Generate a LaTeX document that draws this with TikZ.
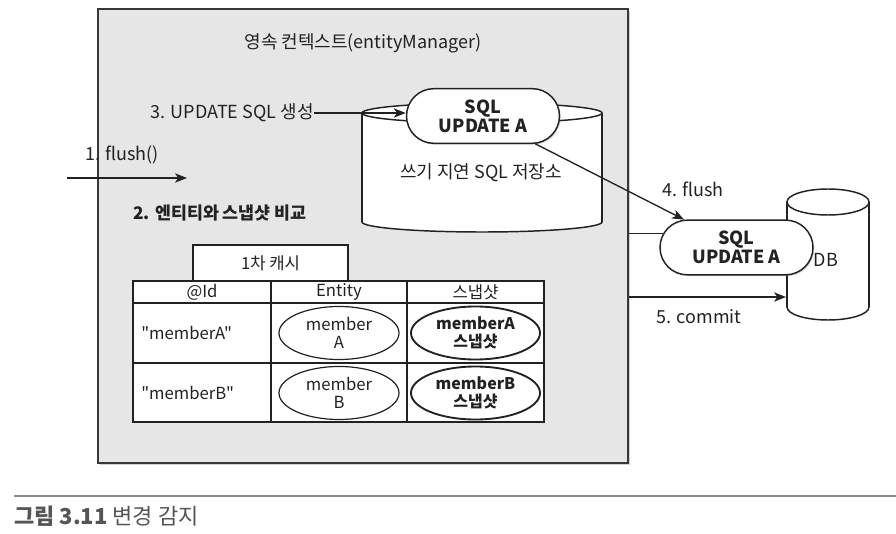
\documentclass[tikz,border=0pt]{standalone}
\usepackage{fontspec}
\setmainfont{Noto Sans CJK KR}[Ligatures=TeXOff]
\usetikzlibrary{arrows.meta,shapes.misc,shapes.geometric,shadows}
\definecolor{boxfill}{HTML}{E6E6E6}
\definecolor{ink}{HTML}{222222}
\definecolor{capgray}{HTML}{555555}
\begin{document}
\begin{tikzpicture}[x=0.75pt,y=-0.75pt,
  every node/.style={text=ink, inner sep=0pt},
  lbl/.style={font=\fontsize{13.5pt}{16pt}\selectfont},
  cell/.style={font=\fontsize{12.5pt}{13.5pt}\selectfont, align=center},
  pill/.style={draw=ink, fill=white, line width=1.1pt, rounded rectangle,
    minimum width=114.75pt, minimum height=41pt, align=center,
    font=\fontsize{13.5pt}{14pt}\selectfont\bfseries,
    drop shadow={shadow xshift=1pt, shadow yshift=-1pt, opacity=0.3}},
  arr/.style={-{Stealth[length=9pt,width=7pt,inset=2.5pt]}, line width=1pt, draw=ink},
  line/.style={line width=1pt, draw=ink},
  grid/.style={line width=1.1pt, draw=ink},
  ent/.style={ellipse, draw=ink, line width=0.9pt, fill=white, minimum width=90pt,
    minimum height=39.75pt, cell},
  snap/.style={ellipse, draw=ink, line width=1.4pt, fill=white, minimum width=96.75pt,
    minimum height=39.75pt, cell, font=\fontsize{12pt}{13.5pt}\selectfont\bfseries}]
\useasboundingbox (0,0) rectangle (896,534);
\fill[white] (0,0) rectangle (896,534);

% main box
\node[draw=ink!90, fill=boxfill, line width=1.5pt, minimum width=397.5pt,
  minimum height=340.5pt,
  drop shadow={shadow xshift=1.5pt, shadow yshift=-1.5pt, opacity=0.35}] (box) at (363,236) {};
\node[lbl] (title) at (363,43) {영속 컨텍스트(entityManager)};

% write-behind SQL store cylinder
\filldraw[grid, fill=white] (482,222) ellipse [x radius=120, y radius=10];
\fill[white] (362,113) rectangle (602,222);
\draw[grid] (362,113) -- (362,222) (602,113) -- (602,222);
\filldraw[grid, fill=white] (482,113) ellipse [x radius=120, y radius=10];
\node[lbl] (store) at (481,173) {쓰기 지연 SQL 저장소};
\node[pill] (p1) at (483,116) {SQL\\UPDATE A};

% step labels
\node[lbl] (t3) at (232,113) {3. UPDATE SQL 생성};
\draw[arr] (t3.east) -- (t3.east -| p1.west);
\node[lbl] (t1) at (122,155) {1. flush()};
\coordinate (a1s) at (67,178);
\coordinate (a1e) at (187,178);
\draw[arr] (a1s) -- (a1e);
\node[lbl, font=\fontsize{13pt}{16pt}\selectfont\bfseries] (t2) at (220,213) {2. 엔티티와 스냅샷 비교};

% first-level cache table
\node[draw=ink, fill=white, line width=1.1pt, minimum width=116.25pt, minimum height=27pt,
  cell] (cache) at (270.5,263) {1차 캐시};
\filldraw[grid, fill=white] (133,281) rectangle (544,422);
\draw[grid] (271,281) -- (271,422) (407,281) -- (407,422)
  (133,303) -- (544,303) (133,363) -- (544,363);
\node[cell] (hid) at (202,292) {@Id};
\node[cell] (hent) at (339,292) {Entity};
\node[cell] (hsnap) at (475.5,292) {스냅샷};
\node[cell, anchor=west] (ida) at (141,333) {"memberA"};
\node[cell, anchor=west] (idb) at (141,393) {"memberB"};
\node[ent] (ea) at (339,333) {member\\A};
\node[ent] (eb) at (339,393) {member\\B};
\node[snap] (sa) at (475.5,333) {memberA\\스냅샷};
\node[snap] (sb) at (475.5,393) {memberB\\스냅샷};

% DB cylinder
\filldraw[grid, fill=white] (828,307) ellipse [x radius=41, y radius=13];
\fill[white] (787,202) rectangle (869,307);
\draw[grid] (787,202) -- (787,307) (869,202) -- (869,307);
\filldraw[grid, fill=white] (828,202) ellipse [x radius=41, y radius=13];
\coordinate (dbleft) at (786,297);
\node[pill] (p2) at (736.5,247.5) {SQL\\UPDATE A};
\node[lbl] (db) at (826,260) {DB};

% flush / commit
\node[lbl] (t4) at (693,189) {4. flush};
\draw[arr] (p1.-28) -- (p2.152);
\draw[line] (box.east |- p2.169) -- (p2.169);
\draw[arr] (box.east |- dbleft) -- (dbleft);
\node[lbl] (t5) at (699,317) {5. commit};

% caption
\draw[line width=0.8pt, draw=black!45] (14,496) -- (896,496);
\node[anchor=west, text=capgray, font=\fontsize{16.5pt}{18pt}\selectfont] (cap) at (14,516)
  {{\bfseries 그림 3.11} 변경 감지};
\end{tikzpicture}
\end{document}
